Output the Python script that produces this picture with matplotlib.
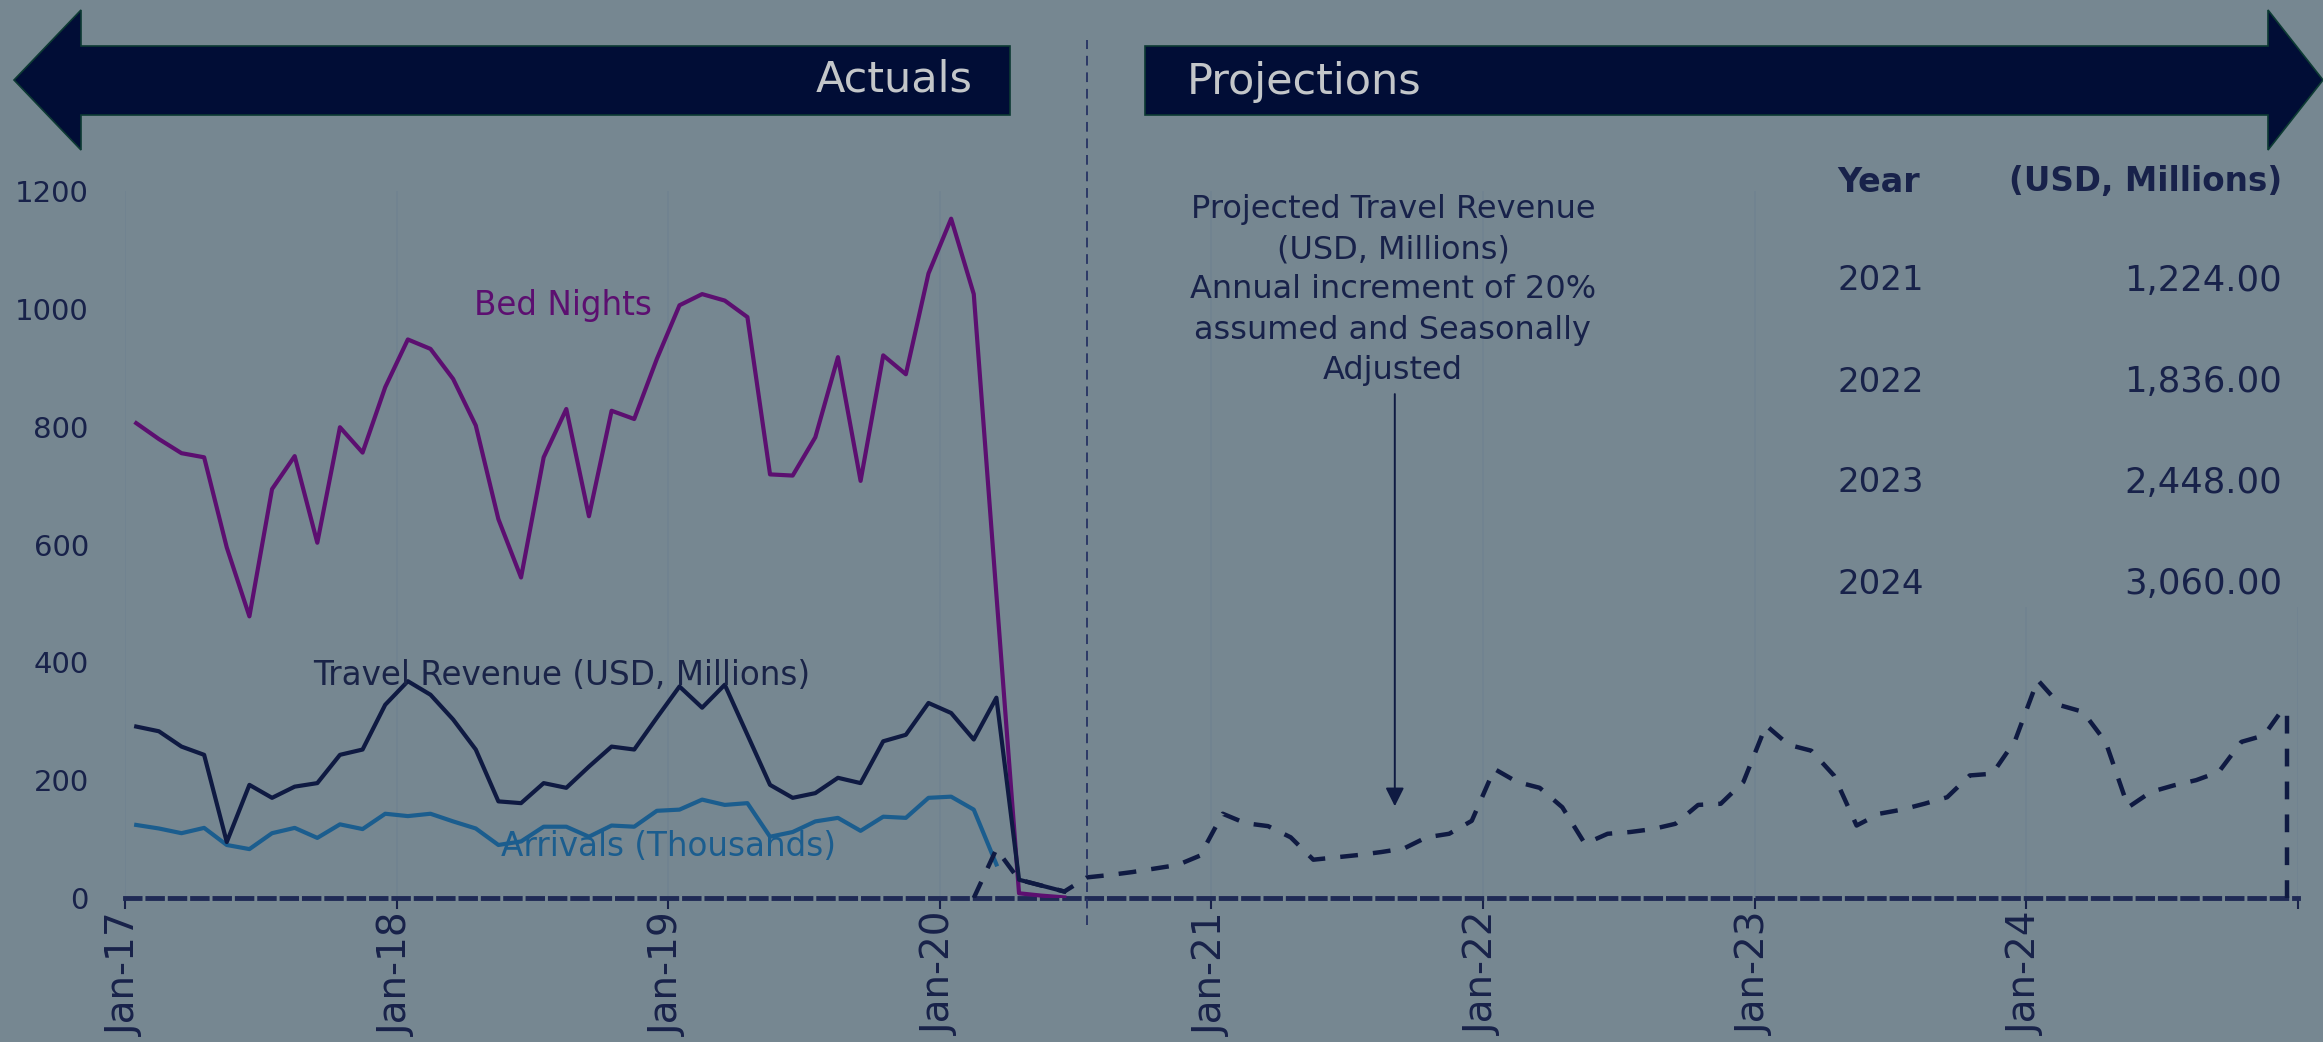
import numpy as np
import matplotlib
matplotlib.use("Agg")
import matplotlib.pyplot as plt
from matplotlib.patches import Polygon, Rectangle

plt.rcParams['font.family'] = ['DejaVu Sans']

# Monthly data, Jan-17 onwards (index 0 = Jan-17)
bed_nights = [806, 779, 755, 748, 595, 478, 694, 750, 603, 799, 756, 867,
              948, 932, 881, 802, 643, 544, 748, 830, 648, 827, 813, 915,
              1006, 1025, 1014, 986, 719, 717, 782, 918, 708, 921, 889, 1060,
              1153, 1025, 515, 8, 4, 1]
travel_revenue = [291, 283, 257, 243, 95, 192, 170, 189, 195, 243, 252, 328,
                  368, 345, 303, 252, 164, 161, 195, 187, 223, 257, 252, 306,
                  359, 323, 362, 277, 192, 170, 178, 204, 195, 266, 277, 331,
                  314, 269, 340, 31, 21, 11]
arrivals = [124, 118, 110, 119, 90, 83, 110, 119, 102, 125, 117, 143,
            139, 143, 130, 118, 90, 96, 121, 121, 104, 123, 121, 148,
            150, 167, 158, 161, 104, 112, 130, 136, 114, 138, 136, 170,
            172, 150, 57]

# projected travel revenue starts at month index 37 (Feb-20)
proj_start = 37
projection = [0, 83, 31, 21, 11,
              35, 39, 44, 50, 56, 72,
              143, 127, 122, 103, 65, 69, 73, 78, 84, 103, 109, 131,
              219, 197, 187, 154, 92, 109, 112, 117, 126, 158, 160, 197,
              293, 260, 250, 208, 123, 143, 150, 160, 171, 208, 211, 267,
              370, 327, 316, 265, 154, 180, 191, 200, 214, 265, 276, 330]
first_projected_month = 42  # Jul-20

tick_years = [17, 18, 19, 20, 21, 22, 23, 24, 25]
table_years = [2021, 2022, 2023, 2024]
table_values = [1224.00, 1836.00, 2448.00, 3060.00]

# colours
BG = '#768791'
NAVY = '#0f1a42'
PURPLE = '#5c0f70'
BLUE = '#1b5d8e'
ARROW = '#010d36'
TXT = '#18224a'
GRID = '#708290'

W, H = 2323, 1042
fig = plt.figure(figsize=(W / 100, H / 100), dpi=100)
fig.patch.set_facecolor(BG)


def px(x, y):
    return (x / W, 1 - y / H)


ax = fig.add_axes([124.9 / W, 1 - 898 / H, (2298 - 124.9) / W, (898 - 191) / H])
ax.set_facecolor(BG)

x_bn = np.arange(len(bed_nights)) + 0.5
x_tr = np.arange(len(travel_revenue)) + 0.5
x_ar = np.arange(len(arrivals)) + 0.5
x_pr = np.arange(len(projection)) + proj_start + 0.5

ax.plot(x_bn, bed_nights, color=PURPLE, lw=3, zorder=4)
ax.plot(x_ar, arrivals, color=BLUE, lw=3, zorder=4)
ax.plot(x_tr, travel_revenue, color=NAVY, lw=3, zorder=5)
ax.plot(x_pr, projection, color=NAVY, lw=3.2, ls=(0, (4, 3.4)), zorder=5)
# drop line at the end of the projection
ax.vlines(x_pr[-1], 0, projection[-1], color=NAVY, lw=3.2, ls=(0, (4, 3.4)), zorder=5)

ax.set_xlim(0, 96)
ax.set_ylim(0, 1200)
ax.set_yticks(range(0, 1201, 200))
xt = [(y - 17) * 12 for y in tick_years]
ax.set_xticks(xt)
ax.set_xticklabels([f'Jan-{y}' if y < 25 else '' for y in tick_years], rotation=90)
ax.tick_params(axis='x', colors=TXT, labelsize=28, length=8, width=1.5, pad=2,
               direction='out')
ax.tick_params(axis='y', colors=TXT, labelsize=21, length=0, pad=26)
ax.grid(axis='x', color=GRID, lw=1.1)
ax.set_axisbelow(True)
for s in ['top', 'right', 'left']:
    ax.spines[s].set_visible(False)
ax.spines['bottom'].set_color('#1f2a55')
ax.spines['bottom'].set_linewidth(3.5)
ax.spines['bottom'].set_linestyle((0, (3, 1.6)))

# separator between actuals and projections
sep_x = first_projected_month + 0.5
ax.axvline(sep_x, ymin=-0.038, ymax=1.214, clip_on=False, color='#2b3866',
           lw=1.4, ls=(0, (5, 3.5)), zorder=6)

# series labels
ax.text(19.35, 1005, 'Bed Nights', color=PURPLE, fontsize=23.5, ha='center', va='center')
ax.text(19.3, 378, 'Travel Revenue (USD, Millions)', color='#1a2448', fontsize=23.5,
        ha='center', va='center', zorder=6)
ax.text(24.0, 88, 'Arrivals (Thousands)', color=BLUE, fontsize=23.5,
        ha='center', va='center', zorder=6)

# projection note with arrow
note_x = 56.1
ax.annotate('', xy=(note_x, 151), xytext=(note_x, 860),
            arrowprops=dict(arrowstyle='-|>', color=NAVY, lw=1.4, mutation_scale=28))
fig.text(*px(1393, 290), 'Projected Travel Revenue\n(USD, Millions)\nAnnual increment of 20%\n'
         'assumed and Seasonally\nAdjusted', color=TXT, fontsize=23, ha='center',
         va='center', multialignment='center', linespacing=1.38)

# table box (hides gridlines behind it)
fig.patches.append(Rectangle(px(1800, 607), 500 / W, 450 / H, transform=fig.transFigure,
                             facecolor=BG, edgecolor='none', zorder=1))
fig.text(*px(1837, 182), 'Year', color=TXT, fontsize=24, fontweight='bold', ha='left',
         va='center', zorder=3)
fig.text(*px(2282, 182), '(USD, Millions)', color=TXT, fontsize=23.5, fontweight='bold',
         ha='right', va='center', zorder=3)
row_y = [281, 382, 483, 584]
for yr, val, yy in zip(table_years, table_values, row_y):
    fig.text(*px(1837, yy), str(yr), color=TXT, fontsize=24.5, ha='left', va='center', zorder=3)
    fig.text(*px(2282, yy), f'{val:,.2f}', color=TXT, fontsize=25.5, ha='right',
             va='center', zorder=3)

# banner arrows
left_arrow = [px(14, 80), px(81, 10), px(81, 46), px(1010, 46), px(1010, 115),
              px(81, 115), px(81, 150)]
right_arrow = [px(1145, 46), px(2268, 46), px(2268, 10), px(2323, 80), px(2268, 150),
               px(2268, 115), px(1145, 115)]
for pts in (left_arrow, right_arrow):
    fig.patches.append(Polygon(pts, closed=True, transform=fig.transFigure,
                               facecolor=ARROW, edgecolor='#0c3a33', lw=1.2, zorder=2))
fig.text(*px(973, 80), 'Actuals', color='#c3c6c9', fontsize=31, ha='right',
         va='center', zorder=3)
fig.text(*px(1187, 82), 'Projections', color='#c3c6c9', fontsize=31, ha='left',
         va='center', zorder=3)

fig.savefig('out.png', dpi=100, facecolor=BG)
